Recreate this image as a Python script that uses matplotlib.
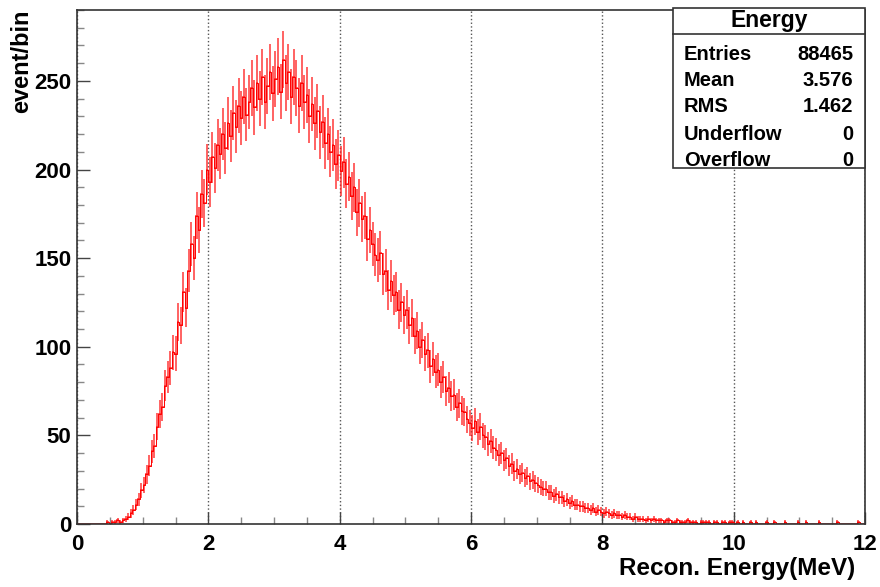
import numpy as np
import matplotlib
matplotlib.use("Agg")
import matplotlib.pyplot as plt
from matplotlib.patches import Rectangle
from matplotlib.ticker import MultipleLocator

plt.rcParams['font.family'] = ['Liberation Sans', 'DejaVu Sans']
plt.rcParams['font.weight'] = 'bold'

# histogram: 0.04 MeV bins from 0 to 12, one row per MeV
bin_width = 0.04
counts_0_1 = [0, 0, 0, 0, 0, 0, 0, 0, 0, 0, 0, 1, 0, 1, 1, 2, 1, 2, 3, 4, 6, 8, 11, 14, 19]
counts_1_2 = [22, 28, 33, 41, 44, 55, 62, 66, 78, 83, 88, 97, 96, 114, 112, 131, 122, 143, 158, 150, 174, 166, 186, 181, 200]
counts_2_3 = [193, 207, 201, 214, 209, 220, 212, 226, 219, 232, 224, 236, 229, 241, 231, 238, 246, 235, 249, 240, 252, 238, 247, 255, 243]
counts_3_4 = [251, 258, 244, 262, 249, 255, 241, 252, 246, 236, 249, 238, 242, 230, 237, 226, 233, 221, 227, 215, 220, 210, 214, 203, 208]
counts_4_5 = [199, 204, 192, 196, 185, 190, 176, 181, 172, 174, 161, 166, 158, 152, 149, 153, 141, 143, 132, 137, 129, 131, 121, 125, 118]
counts_5_6 = [121, 112, 116, 106, 109, 100, 104, 96, 98, 89, 93, 86, 87, 80, 83, 75, 77, 72, 73, 66, 68, 64, 63, 59, 57]
counts_6_7 = [54, 58, 52, 55, 50, 49, 45, 47, 43, 42, 39, 40, 36, 37, 33, 34, 30, 31, 28, 29, 26, 27, 24, 25, 23]
counts_7_8 = [22, 21, 20, 20, 18, 18, 16, 17, 15, 15, 13, 14, 12, 13, 11, 11, 10, 10, 9, 9, 8, 9, 7, 8, 7]
counts_8_9 = [6, 7, 6, 5, 6, 5, 5, 4, 5, 4, 4, 3, 4, 3, 3, 3, 2, 3, 2, 3, 2, 2, 2, 1, 2]
counts_9_10 = [2, 1, 1, 2, 1, 1, 1, 2, 1, 1, 1, 0, 1, 1, 1, 1, 0, 1, 1, 0, 1, 1, 0, 1, 1]
counts_10_11 = [0, 1, 0, 1, 0, 0, 1, 0, 1, 0, 0, 0, 1, 0, 0, 1, 0, 0, 0, 1, 0, 0, 0, 0, 1]
counts_11_12 = [0, 0, 1, 0, 0, 0, 0, 1, 0, 0, 0, 0, 0, 0, 1, 0, 0, 0, 0, 0, 0, 0, 1, 0, 0]

counts = np.array(counts_0_1 + counts_1_2 + counts_2_3 + counts_3_4 + counts_4_5 + counts_5_6
                  + counts_6_7 + counts_7_8 + counts_8_9 + counts_9_10 + counts_10_11 + counts_11_12, dtype=float)
centers = np.arange(len(counts)) * bin_width + bin_width / 2

stats_labels = ["Entries", "Mean", "RMS", "Underflow", "Overflow"]
stats_values = ["88465", "3.576", "1.462", "0", "0"]

fig = plt.figure(figsize=(8.8, 5.87), dpi=100)
ax = fig.add_axes([0.0875, 0.1073, 0.8955, 0.8757])

ax.errorbar(centers, counts, xerr=bin_width / 2, yerr=np.sqrt(counts),
            fmt='none', ecolor='#ff1a1a', elinewidth=1.2, alpha=0.8)
ax.step(centers, counts, where='mid', color='red', linewidth=0.7)

ax.set_xlim(0, 12)
ax.set_ylim(0, 290)
ax.xaxis.set_major_locator(MultipleLocator(2))
ax.xaxis.set_minor_locator(MultipleLocator(0.5))
ax.yaxis.set_major_locator(MultipleLocator(50))
ax.yaxis.set_minor_locator(MultipleLocator(10))
ax.tick_params(which='major', direction='in', length=9, width=1, labelsize=16, color='#444444')
ax.tick_params(which='minor', direction='in', length=5, width=1, color='#888888')
ax.tick_params(axis='x', pad=7)
ax.tick_params(axis='y', pad=4)
ax.grid(axis='x', which='major', linestyle=':', color='#555555', linewidth=1)
ax.axvline(12, linestyle=':', color='#555555', linewidth=1)

for s in ax.spines.values():
    s.set_linewidth(1.2)
    s.set_color('#333333')

fig.text(0.972, 0.012, "Recon. Energy(MeV)", ha='right', va='bottom', fontsize=17.5, fontweight='bold')
fig.text(0.012, 0.983, "event/bin", ha='left', va='top', rotation=90, fontsize=17, fontweight='bold')

# stats box
bx0, bx1 = 673 / 880, 865 / 880
by0, by1 = 1 - 168 / 587, 1 - 8 / 587
fig.patches.append(Rectangle((bx0, by0), bx1 - bx0, by1 - by0, transform=fig.transFigure,
                             facecolor='white', edgecolor='#333333', linewidth=1.2, zorder=5))
line_y = 1 - 34 / 587
fig.add_artist(plt.Line2D([bx0, bx1], [line_y, line_y], transform=fig.transFigure,
                          color='#333333', linewidth=1.2, zorder=6))
fig.text((bx0 + bx1) / 2, 1 - 21 / 587, "Energy", ha='center', va='center', fontsize=16.5, fontweight='bold', zorder=7)
row_y = [55, 81, 106, 134, 160]
for lab, val, yy in zip(stats_labels, stats_values, row_y):
    fig.text(684 / 880, 1 - yy / 587, lab, ha='left', va='center', fontsize=14.5, fontweight='bold', zorder=7)
    fig.text(853 / 880, 1 - yy / 587, val, ha='right', va='center', fontsize=14.5, fontweight='bold', zorder=7)

fig.savefig("out.png", dpi=100)
